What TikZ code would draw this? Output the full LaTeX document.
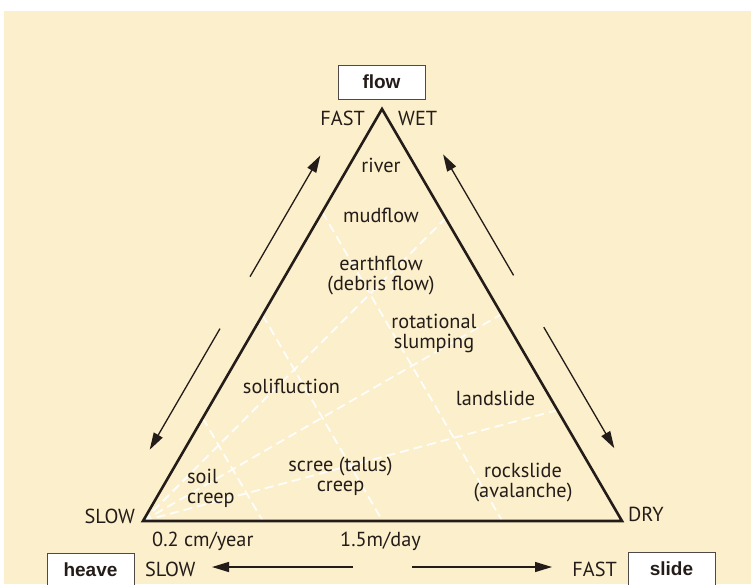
\documentclass[tikz,border=0pt]{standalone}
\usepackage{fontspec}
\setmainfont{PT Sans}
\newfontfamily\tagfont{Liberation Sans}
\usepackage{tikz}
\usetikzlibrary{arrows.meta,calc}
\definecolor{cream}{RGB}{252,239,203}
\definecolor{ink}{RGB}{35,28,25}

\begin{document}
\begin{tikzpicture}[x=1pt,y=-1pt,>={Triangle[length=17pt,width=10pt]}]
\tikzstyle{lbl}=[inner sep=0pt,anchor=base,align=center,text=ink,font=\fontsize{20.3}{20}\selectfont]
\tikzstyle{tag}=[draw=ink!80,line width=0.9pt,fill=white,anchor=base,inner xsep=0pt,inner ysep=9pt,text height=14pt,text depth=2pt,minimum width=87pt,text=ink,font=\tagfont\bfseries\fontsize{19}{20}\selectfont]
\tikzstyle{grid}=[white,opacity=0.9,line width=1.8pt,dash pattern=on 9pt off 5pt]
\tikzstyle{side}=[draw=ink,line width=2.6pt,line join=miter]
\tikzstyle{arr}=[->,draw=ink,line width=1.3pt]

% paper
\fill[white] (0,0) rectangle (751,584);
\fill[cream] (4,11) rectangle (751,584);
\useasboundingbox (0,0) rectangle (751,584);

% corners of the triangle
\coordinate (slow) at (143,521);
\coordinate (apex) at (382,109);
\coordinate (dry) at (622,521);

% dashed divisions
\foreach \f in {0.25,0.5,0.75}
  \draw[grid] ($(slow)!\f!(apex)$) -- ($(slow)!\f!(dry)$);
\foreach \t in {0.265,0.498,0.731}
  \draw[grid] (slow) -- ($(apex)!\t!(dry)$);

\draw[side] (slow) -- (apex) -- (dry) -- cycle;

% arrow ends beside the sides
\coordinate (ls1) at (220,328.6);  \coordinate (ls2) at (149.7,449.7);
\coordinate (lu1) at (250,276.7);  \coordinate (lu2) at (320.3,155.6);
\coordinate (ru1) at (513.6,275.4); \coordinate (ru2) at (443.1,154.4);
\coordinate (rd1) at (543.8,327.2); \coordinate (rd2) at (614.3,448.2);
\coordinate (bl1) at (353,567);    \coordinate (bl2) at (212,567);
\coordinate (br1) at (412,567);    \coordinate (br2) at (552,567);

\draw[arr] (ls1) -- (ls2);
\draw[arr] (lu1) -- (lu2);
\draw[arr] (ru1) -- (ru2);
\draw[arr] (rd1) -- (rd2);
\draw[arr] (bl1) -- (bl2);
\draw[arr] (br1) -- (br2);

% end members
\node[tag] (flow) at (381.5,88) {flow};
\node[tag] (heave) at (90.5,576) {heave};
\node[tag] (slide) at (671.5,575) {slide};

% corner words
\node[lbl,anchor=base east] (fast) at (365,125) {FAST};
\node[lbl,anchor=base west] (wet) at (398,125) {WET};
\node[lbl,anchor=base east] (slowc) at (135,523) {SLOW};
\node[lbl,anchor=base west] (dryc) at (628,521) {DRY};
\node[lbl,anchor=base west] (rate1) at (152,546) {0.2 cm/year};
\node[lbl,anchor=base west] (rate2) at (340,546) {1.5m/day};
\node[lbl,anchor=base west] (slowb) at (145,576) {SLOW};
\node[lbl,anchor=base east] (fastb) at (617,576) {FAST};

% movements (base = last line)
\node[lbl] (river) at (381,172) {river};
\node[lbl] (mud) at (381,222) {mudflow};
\node[lbl] (earth) at (381,290) {earthflow\\(debris flow)};
\node[lbl] (slump) at (434,348) {rotational\\slumping};
\node[lbl] (solif) at (291.5,393) {solifluction};
\node[lbl] (land) at (495.5,405) {landslide};
\node[lbl,anchor=base west,align=left] (soil) at (187,503) {soil\\creep};
\node[lbl] (scree) at (340.5,491) {scree (talus)\\creep};
\node[lbl] (rock) at (523,497) {rockslide\\(avalanche)};
\end{tikzpicture}
\end{document}
